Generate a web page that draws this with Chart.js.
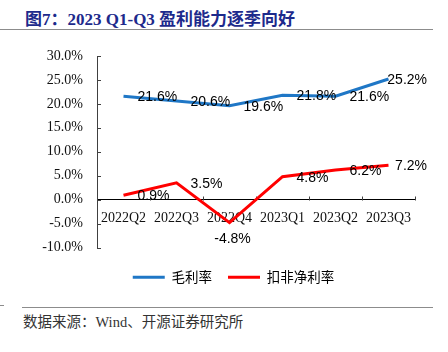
<!DOCTYPE html>
<html>
<head>
<meta charset="utf-8">
<script src="https://cdn.jsdelivr.net/npm/chart.js@4"></script>
<style>
  html, body { margin: 0; padding: 0; background: #fff; }
  body { width: 448px; height: 352px; position: relative; overflow: hidden; }
  #title {
    position: absolute; left: 25px; top: 5px;
    font: bold 17px "Liberation Serif", "Noto Sans CJK SC", serif;
    color: #1d2a8c; white-space: nowrap;
  }
  .rule { position: absolute; height: 0; border-top: 1.5px solid #8c8c8c; }
  #source {
    position: absolute; left: 23px; top: 310px;
    font: 14.5px "Liberation Serif", "Noto Sans CJK SC", serif;
    color: #333; white-space: nowrap;
  }
  #wrap { position: absolute; left: 0; top: 0; width: 448px; height: 300px; }
</style>
</head>
<body>
<div id="title">图7：2023 Q1-Q3 盈利能力逐季向好</div>
<div class="rule" style="left:0;top:29px;width:433px;"></div>
<div id="wrap"><canvas id="chart"></canvas></div>
<div class="rule" style="left:0;top:305px;width:4px;"></div>
<div class="rule" style="left:22px;top:307px;width:411px;"></div>
<div id="source">数据来源：Wind、开源证券研究所</div>

<script>
// Data
const quarters = ['2022Q2', '2022Q3', '2022Q4', '2023Q1', '2023Q2', '2023Q3'];
const grossMargin = [21.6, 20.6, 19.6, 21.8, 21.6, 25.2];
const netMargin = [0.9, 3.5, -4.8, 4.8, 6.2, 7.2];
const yTicks = [-10, -5, 0, 5, 10, 15, 20, 25, 30];

const axisColor = '#404040';
const pct = (v) => v.toFixed(1) + '%';

// Excel-style inside tick marks
const insideTicks = {
  id: 'insideTicks',
  beforeDatasetsDraw(chart) {
    const { ctx, scales: { x, y } } = chart;
    const y0 = Math.round(y.getPixelForValue(0)) + 0.5;
    ctx.save();
    ctx.strokeStyle = axisColor;
    ctx.lineWidth = 1;
    ctx.beginPath();
    for (let i = 0; i < quarters.length; i++) {
      const edge = i < quarters.length - 1
        ? (x.getPixelForValue(i) + x.getPixelForValue(i + 1)) / 2
        : x.right;
      const px = Math.round(edge) + 0.5;
      ctx.moveTo(px, y0 - 4);
      ctx.lineTo(px, y0);
    }
    yTicks.forEach(v => {
      const py = Math.round(y.getPixelForValue(v)) + 0.5;
      ctx.moveTo(x.left, py);
      ctx.lineTo(x.left + 4, py);
    });
    ctx.stroke();
    ctx.restore();
  }
};

// Value labels, right of each point (below for negatives)
const valueLabels = {
  id: 'valueLabels',
  afterDatasetsDraw(chart) {
    const { ctx } = chart;
    const maxRight = 427;
    ctx.save();
    ctx.font = '14px "Liberation Sans", Arial, sans-serif';
    ctx.fillStyle = '#000';
    ctx.textBaseline = 'middle';
    chart.data.datasets.forEach((ds, di) => {
      const meta = chart.getDatasetMeta(di);
      meta.data.forEach((pt, i) => {
        const v = ds.data[i];
        const text = pct(v);
        const w = ctx.measureText(text).width;
        if (v < 0) {
          ctx.textAlign = 'center';
          ctx.fillText(text, pt.x + 3, pt.y + 17);
        } else {
          ctx.textAlign = 'left';
          const lx = Math.min(pt.x + 14, maxRight - w);
          ctx.fillText(text, lx, pt.y + 1);
        }
      });
    });
    ctx.restore();
  }
};

// legend sits a bit right of and below where Chart.js puts it
const legendNudge = {
  id: 'legendNudge',
  afterLayout(chart) {
    const lg = chart.legend;
    lg.left += 26; lg.right += 26;
    lg.top += 7; lg.bottom += 7;
  }
};

const ctx = document.getElementById('chart').getContext('2d');
new Chart(ctx, {
  type: 'line',
  data: {
    labels: quarters,
    datasets: [
      {
        label: '毛利率',
        data: grossMargin,
        borderColor: '#1f77c6',
        backgroundColor: '#1f77c6',
        borderWidth: 3,
        pointRadius: 0,
        tension: 0
      },
      {
        label: '扣非净利率',
        data: netMargin,
        borderColor: '#ff0000',
        backgroundColor: '#ff0000',
        borderWidth: 3,
        pointRadius: 0,
        tension: 0
      }
    ]
  },
  options: {
    responsive: true,
    maintainAspectRatio: false,
    animation: false,
    layout: { padding: { top: 56, left: 0, right: 33, bottom: 13 } },
    plugins: {
      legend: {
        position: 'bottom',
        labels: {
          boxWidth: 32,
          boxHeight: 3,
          padding: 16,
          color: '#222',
          font: { family: '"Noto Sans CJK SC", sans-serif', size: 13.5 },
          generateLabels: (chart) => chart.data.datasets.map((ds, i) => ({
            text: ds.label,
            fillStyle: ds.borderColor,
            strokeStyle: ds.borderColor,
            lineWidth: 0,
            datasetIndex: i
          }))
        }
      },
      tooltip: { enabled: false }
    },
    scales: {
      x: {
        position: { y: 0 },
        offset: true,
        grid: { display: true, drawOnChartArea: false, drawTicks: false },
        border: { color: '#000', width: 1 },
        ticks: {
          color: '#111',
          padding: 10,
          maxRotation: 0,
          font: { family: '"Liberation Serif", serif', size: 14 }
        }
      },
      y: {
        min: -10,
        max: 30,
        afterFit: (scale) => { scale.width = 97; },
        afterBuildTicks: (scale) => { scale.ticks = yTicks.map(v => ({ value: v })); },
        grid: { display: true, drawOnChartArea: false, drawTicks: false },
        border: { color: axisColor, width: 1 },
        ticks: {
          color: '#111',
          padding: 14,
          callback: (v) => pct(v),
          font: { family: '"Liberation Serif", serif', size: 14 }
        }
      }
    }
  },
  plugins: [insideTicks, valueLabels, legendNudge]
});
</script>
</body>
</html>
